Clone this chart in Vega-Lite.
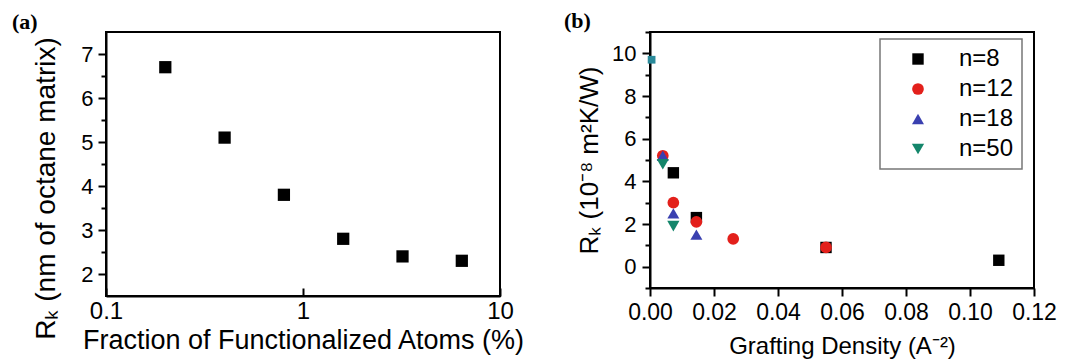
{
  "$schema": "https://vega.github.io/schema/vega-lite/v6.json",
  "autosize": {"type": "pad"},
  "padding": {"left": 11, "top": 9, "right": 0, "bottom": 0},
  "bounds": "flush",
  "spacing": 150,
  "config": {
    "view": {"stroke": "black", "strokeWidth": 2},
    "axis": {
      "labelFont": "Liberation Sans",
      "labelFontSize": 22,
      "labelColor": "black",
      "labelOverlap": false,
      "labelFlush": false,
      "titleFont": "Liberation Sans",
      "titleFontWeight": "normal",
      "titleColor": "black",
      "domainColor": "black",
      "domainWidth": 2,
      "tickColor": "black",
      "tickWidth": 2,
      "grid": false
    },
    "title": {
      "anchor": "start",
      "frame": "group",
      "font": "Liberation Serif",
      "fontWeight": "bold",
      "fontSize": 22,
      "color": "black",
      "offset": -2
    },
    "legend": {
      "orient": "none",
      "legendX": 774,
      "legendY": 7,
      "fillColor": "white",
      "strokeColor": "#777777",
      "strokeWidth": 1.5,
      "padding": 8,
      "symbolOffset": 18,
      "labelOffset": 29,
      "labelFont": "Liberation Sans",
      "labelFontSize": 24,
      "labelColor": "black",
      "symbolSize": 110,
      "symbolStrokeWidth": 0,
      "rowPadding": 6,
      "title": null
    }
  },
  "datasets": {
    "functionalized": [
      {"fraction": 0.2, "rk": 6.7},
      {"fraction": 0.4, "rk": 5.1},
      {"fraction": 0.8, "rk": 3.8},
      {"fraction": 1.6, "rk": 2.8},
      {"fraction": 3.2, "rk": 2.4},
      {"fraction": 6.4, "rk": 2.3}
    ],
    "grafting": [
      {"series": "n=8", "density": 0.0073, "rk": 4.4},
      {"series": "n=8", "density": 0.0145, "rk": 2.3},
      {"series": "n=8", "density": 0.055, "rk": 0.9},
      {"series": "n=8", "density": 0.109, "rk": 0.3},
      {"series": "n=12", "density": 0.004, "rk": 5.2},
      {"series": "n=12", "density": 0.0073, "rk": 3.0},
      {"series": "n=12", "density": 0.0145, "rk": 2.1},
      {"series": "n=12", "density": 0.026, "rk": 1.3},
      {"series": "n=12", "density": 0.055, "rk": 0.9},
      {"series": "n=18", "density": 0.004, "rk": 5.2},
      {"series": "n=18", "density": 0.0073, "rk": 2.5},
      {"series": "n=18", "density": 0.0145, "rk": 1.5},
      {"series": "n=50", "density": 0.004, "rk": 4.8},
      {"series": "n=50", "density": 0.0073, "rk": 1.9}
    ],
    "bare": [
      {"density": 0.0005, "rk": 9.7}
    ]
  },
  "hconcat": [
    {
      "width": 394,
      "height": 264,
      "title": {"text": "(a)", "dx": -94},
      "data": {"name": "functionalized"},
      "resolve": {"axis": {"y": "independent"}},
      "layer": [
        {
          "mark": {"type": "point", "shape": "square", "filled": true, "size": 150, "color": "black", "opacity": 1},
          "encoding": {
            "x": {
              "field": "fraction",
              "type": "quantitative",
              "scale": {"type": "log", "domain": [0.1, 10], "nice": false, "padding": 0},
              "axis": {
                "values": [0.1, 1, 10],
                "format": "~g",
                "labelFontSize": 24,
                "tickSize": -8,
                "labelPadding": 11,
                "title": "Fraction of Functionalized Atoms (%)",
                "titleFontSize": 27,
                "titlePadding": 4
              }
            },
            "y": {
              "field": "rk",
              "type": "quantitative",
              "scale": {"domain": [1.5, 7.5], "nice": false, "zero": false, "padding": 0},
              "axis": {
                "orient": "left",
                "values": [2, 3, 4, 5, 6, 7],
                "tickSize": 8,
                "labelPadding": 5,
                "title": "Rₖ (nm of octane matrix)",
                "titleFontSize": 28,
                "titlePadding": 20,
                "titleY": 156
              }
            }
          }
        },
        {
          "mark": {"type": "point", "opacity": 0},
          "encoding": {
            "y": {
              "field": "rk",
              "type": "quantitative",
              "scale": {"domain": [1.5, 7.5], "nice": false, "zero": false, "padding": 0},
              "axis": {
                "orient": "left",
                "values": [2.5, 3.5, 4.5, 5.5, 6.5],
                "labels": false,
                "domain": false,
                "tickSize": 5,
                "title": null
              }
            }
          }
        }
      ]
    },
    {
      "width": 384,
      "height": 256,
      "title": {"text": "(b)", "dx": -86},
      "resolve": {"axis": {"y": "independent"}},
      "layer": [
        {
          "data": {"name": "grafting"},
          "mark": {"type": "point", "filled": true, "opacity": 1},
          "encoding": {
            "x": {
              "field": "density",
              "type": "quantitative",
              "scale": {"domain": [0, 0.12], "nice": false, "zero": false, "padding": 0},
              "axis": {
                "orient": "bottom",
                "values": [0, 0.01, 0.02, 0.03, 0.04, 0.05, 0.06, 0.07, 0.08, 0.09, 0.1, 0.11, 0.12],
                "labelExpr": "round(datum.value * 100) % 2 == 0 ? format(datum.value, '.2f') : ''",
                "labelFontSize": 23,
                "tickSize": 8,
                "labelPadding": 5,
                "title": "Grafting Density (A⁻²)",
                "titleFontSize": 24,
                "titlePadding": 10
              }
            },
            "y": {
              "field": "rk",
              "type": "quantitative",
              "scale": {"domain": [-1, 11], "nice": false, "zero": false, "padding": 0},
              "axis": {
                "orient": "left",
                "values": [0, 2, 4, 6, 8, 10],
                "tickSize": 8,
                "labelPadding": 6,
                "title": "Rₖ (10⁻⁸ m²K/W)",
                "titleFontSize": 26,
                "titlePadding": 9
              }
            },
            "color": {
              "field": "series",
              "type": "nominal",
              "sort": null,
              "scale": {"domain": ["n=8", "n=12", "n=18", "n=50"], "range": ["#000000", "#e3201b", "#3a40b0", "#14866b"]},
              "legend": {"title": null}
            },
            "shape": {
              "field": "series",
              "type": "nominal",
              "sort": null,
              "scale": {"domain": ["n=8", "n=12", "n=18", "n=50"], "range": ["square", "circle", "triangle-up", "triangle-down"]},
              "legend": {"title": null}
            },
            "size": {
              "field": "series",
              "type": "nominal",
              "sort": null,
              "scale": {"domain": ["n=8", "n=12", "n=18", "n=50"], "range": [130, 150, 190, 190]},
              "legend": null
            }
          }
        },
        {
          "data": {"name": "bare"},
          "mark": {"type": "point", "shape": "square", "filled": true, "size": 60, "color": "#2a8a9a", "opacity": 1},
          "encoding": {
            "x": {"field": "density", "type": "quantitative"},
            "y": {
              "field": "rk",
              "type": "quantitative",
              "scale": {"domain": [-1, 11], "nice": false, "zero": false, "padding": 0},
              "axis": {
                "orient": "left",
                "values": [-1, 1, 3, 5, 7, 9, 11],
                "labels": false,
                "domain": false,
                "tickSize": 5,
                "title": null
              }
            }
          }
        }
      ]
    }
  ]
}
